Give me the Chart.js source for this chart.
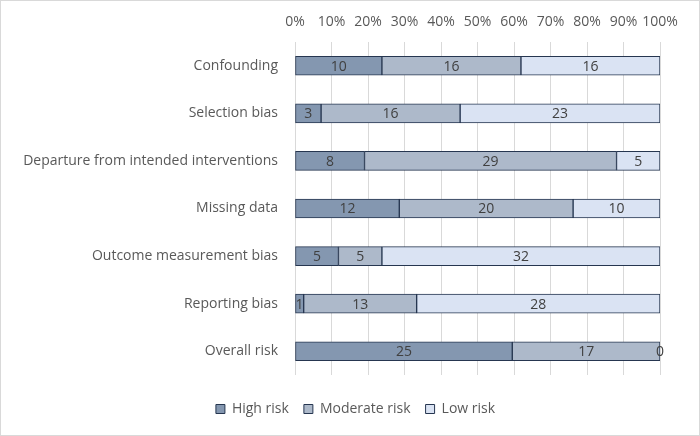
<!DOCTYPE html>
<html lang="en">
<head>
  <meta charset="UTF-8" />
  <title>Risk of bias</title>
  <script src="https://cdn.jsdelivr.net/npm/chart.js"></script>
  <style>
    html, body { margin: 0; padding: 0; background: #fff; }
    .box { width: 700px; height: 436px; box-sizing: border-box; border: 1px solid #d9d9d9; }
    canvas { display: block; }
  </style>
</head>
<body>
  <div class="box">
    <canvas id="chart" width="698" height="434"></canvas>
  </div>

  <script>
    // domains of the risk of bias tool
    const categories = [
      'Confounding',
      'Selection bias',
      'Departure from intended interventions',
      'Missing data',
      'Outcome measurement bias',
      'Reporting bias',
      'Overall risk'
    ];
    const highRisk = [10, 3, 8, 12, 5, 1, 25];
    const moderateRisk = [16, 16, 29, 20, 5, 13, 17];
    const lowRisk = [16, 23, 5, 10, 32, 28, 0];
    const seriesNames = ['High risk', 'Moderate risk', 'Low risk'];
    const xTicks = [0, 10, 20, 30, 40, 50, 60, 70, 80, 90, 100];

    const counts = [highRisk, moderateRisk, lowRisk];
    const colors = ['#8497b0', '#adb9ca', '#dae3f3'];
    const totals = categories.map((c, i) => highRisk[i] + moderateRisk[i] + lowRisk[i]);
    const toPct = arr => arr.map((v, i) => v / totals[i] * 100);

    const font = "'Open Sans', 'Liberation Sans', sans-serif";
    Chart.defaults.font.family = font;
    Chart.defaults.font.size = 14;
    Chart.defaults.color = '#595959';

    // numbers inside the bars
    const barLabels = {
      id: 'barLabels',
      afterDatasetsDraw(chart) {
        const ctx = chart.ctx;
        ctx.save();
        ctx.font = '14px ' + font;
        ctx.fillStyle = '#404040';
        ctx.textAlign = 'center';
        ctx.textBaseline = 'middle';
        chart.data.datasets.forEach((ds, d) => {
          chart.getDatasetMeta(d).data.forEach((bar, i) => {
            ctx.fillText(String(counts[d][i]), (bar.x + bar.base) / 2, bar.y + 1);
          });
        });
        ctx.restore();
      }
    };

    // legend sits a bit right of the canvas centre, like the original
    const legendShift = {
      id: 'legendShift',
      afterLayout(chart) {
        chart.legend.left += 25;
        chart.legend.right += 25;
      }
    };

    new Chart(document.getElementById('chart'), {
      type: 'bar',
      data: {
        labels: categories,
        datasets: counts.map((arr, d) => ({
          label: seriesNames[d],
          data: toPct(arr),
          backgroundColor: colors[d],
          borderColor: '#263650',
          borderWidth: 1,
          borderSkipped: false,
          barThickness: 19
        }))
      },
      options: {
        indexAxis: 'y',
        responsive: false,
        animation: false,
        layout: { padding: { top: 0, right: 39, bottom: 9, left: 0 } },
        plugins: {
          legend: {
            position: 'bottom',
            labels: { boxWidth: 9, boxHeight: 9, padding: 15, color: '#595959' }
          },
          tooltip: { enabled: false }
        },
        scales: {
          x: {
            position: 'top',
            stacked: true,
            min: 0,
            max: 100,
            afterBuildTicks: s => { s.ticks = xTicks.map(v => ({ value: v })); },
            ticks: {
              callback: v => v + '%',
              padding: 12,
              color: '#595959',
              maxRotation: 0,
              minRotation: 0,
              autoSkip: false
            },
            grid: { color: '#d9d9d9', drawTicks: false },
            border: { display: false },
            afterFit: s => { s.height = 41; }
          },
          x2: {
            position: 'bottom',
            display: true,
            ticks: { display: false },
            grid: { display: false, drawTicks: false },
            border: { display: false },
            afterFit: s => { s.height = 12; }
          },
          y: {
            stacked: true,
            ticks: { padding: 17, color: '#595959' },
            grid: { display: false, drawTicks: false },
            border: { display: false },
            afterFit: s => { s.width = 294; }
          }
        }
      },
      plugins: [barLabels, legendShift]
    });
  </script>
</body>
</html>
